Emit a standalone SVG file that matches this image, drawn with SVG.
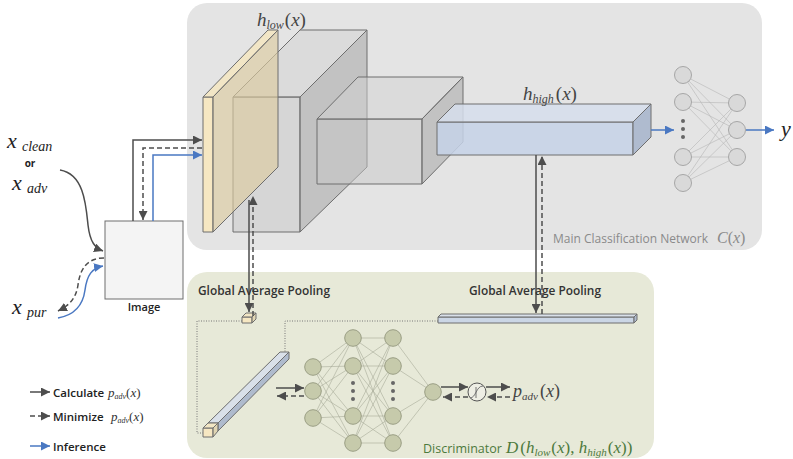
<svg xmlns="http://www.w3.org/2000/svg" width="793" height="459" viewBox="0 0 793 459">
<defs>
<style>
.sans{font-family:"Open Sans","Liberation Sans",sans-serif}
.math{font-family:"Liberation Serif","DejaVu Serif",serif;font-style:italic}
.up{font-style:normal}
.edge{stroke:#b5b5b5;stroke-width:0.6;fill:none}
.dedge{stroke:#a8ab98;stroke-width:0.6;fill:none}
.gnode{fill:#d9d9d9;stroke:#a6a6a6;stroke-width:1}
.dnode{fill:#c6caab;stroke:#9a9e84;stroke-width:1}
.gf{fill:#c8c8c8;fill-opacity:.5;stroke:#6e6e6e;stroke-width:1}
.gs{fill:#a0a0a0;fill-opacity:.5;stroke:#6e6e6e;stroke-width:1}
.gt{fill:#d2d2d2;fill-opacity:.5;stroke:#6e6e6e;stroke-width:1}
.yf{fill:#f6e7c2;stroke:#6e6e6e;stroke-width:1}
.yt{fill:#f3e5c2;fill-opacity:.9;stroke:#6e6e6e;stroke-width:1}
.ys{fill:#dccb9f;fill-opacity:.65;stroke:#6e6e6e;stroke-width:1}
.bf{fill:#c6d2e8;fill-opacity:.85;stroke:#6e6e6e;stroke-width:1}
.bt{fill:#d6deec;fill-opacity:.85;stroke:#6e6e6e;stroke-width:1}
.bs{fill:#a9b6cc;fill-opacity:.9;stroke:#6e6e6e;stroke-width:1}
.dk{stroke:#4d4d4d;stroke-width:1.5;fill:none}
.dash{stroke:#4d4d4d;stroke-width:1.5;fill:none;stroke-dasharray:5 3}
.bl{stroke:#4a78c2;stroke-width:1.5;fill:none}
.dot{stroke:#777;stroke-width:1;fill:none;stroke-dasharray:1 1.5}
</style>
<marker id="ad" viewBox="0 0 10 10" refX="10" refY="5" markerWidth="9" markerHeight="9" markerUnits="userSpaceOnUse" orient="auto"><path d="M0,0 L10,5 L0,10 z" fill="#4d4d4d"/></marker>
<marker id="ab" viewBox="0 0 10 10" refX="10" refY="5" markerWidth="9" markerHeight="9" markerUnits="userSpaceOnUse" orient="auto"><path d="M0,0 L10,5 L0,10 z" fill="#4a78c2"/></marker>
</defs>
<rect width="793" height="459" fill="#ffffff"/>

<g id="main-panel">
<rect x="187" y="3" width="575" height="247" rx="20" fill="#e4e4e4"/>
<text class="sans" x="553" y="243" font-size="12" fill="#8a8a8a">Main Classification Network</text>
<text class="math" x="717" y="243" font-size="16" fill="#8a8a8a">C<tspan class="up">(</tspan>x<tspan class="up">)</tspan></text>
</g>

<g id="disc-panel">
<rect x="187" y="272" width="467" height="186" rx="20" fill="#e7e9d8"/>
</g>

<g id="box-low">
<polygon class="gf" points="233,97 300,97 300,232 233,232"/>
<polygon class="gt" points="233,97 300,30 367,30 300,97"/>
<polygon class="gs" points="300,97 367,30 367,167 300,232"/>
</g>

<g id="slab-input">
<polygon class="yf" points="203,97 213,97 213,232 203,232"/>
<polygon class="yt" points="203,97 268,30 278,30 213,97"/>
<polygon class="ys" points="213,97 278,30 278,167 213,232"/>
</g>

<g id="label-hlow">
<text class="math" x="257" y="26" font-size="19" fill="#444">h<tspan font-size="12" dy="3">low</tspan><tspan class="up" dy="-3" dx="1">(</tspan>x<tspan class="up">)</tspan></text>
</g>

<g id="box-mid">
<polygon class="gf" points="317,119 422,119 422,184 317,184"/>
<polygon class="gt" points="317,119 358,77 463,77 422,119"/>
<polygon class="gs" points="422,119 463,77 463,142 422,184"/>
</g>

<g id="bar-high">
<polygon class="bf" points="437,122 633,122 633,155 437,155"/>
<polygon class="bt" points="437,122 455,104 651,104 633,122"/>
<polygon class="bs" points="633,122 651,104 651,137 633,155"/>
<text class="math" x="523" y="100" font-size="19" fill="#444">h<tspan font-size="12" dy="3">high</tspan><tspan class="up" dy="-3" dx="2">(</tspan>x<tspan class="up">)</tspan></text>
</g>

<g id="classifier-net">
<g>
<line class="edge" x1="683" y1="75" x2="737" y2="103"/><line class="edge" x1="683" y1="75" x2="737" y2="130"/><line class="edge" x1="683" y1="75" x2="737" y2="157"/>
<line class="edge" x1="683" y1="102" x2="737" y2="103"/><line class="edge" x1="683" y1="102" x2="737" y2="130"/><line class="edge" x1="683" y1="102" x2="737" y2="157"/>
<line class="edge" x1="683" y1="157" x2="737" y2="103"/><line class="edge" x1="683" y1="157" x2="737" y2="130"/><line class="edge" x1="683" y1="157" x2="737" y2="157"/>
<line class="edge" x1="683" y1="183" x2="737" y2="103"/><line class="edge" x1="683" y1="183" x2="737" y2="130"/><line class="edge" x1="683" y1="183" x2="737" y2="157"/>
</g>
<circle class="gnode" cx="683" cy="75" r="8.5"/><circle class="gnode" cx="683" cy="102" r="8.5"/>
<circle class="gnode" cx="683" cy="157" r="8.5"/><circle class="gnode" cx="683" cy="183" r="8.5"/>
<circle cx="683" cy="121" r="2" fill="#666"/><circle cx="683" cy="129" r="2" fill="#666"/><circle cx="683" cy="137" r="2" fill="#666"/>
<circle class="gnode" cx="737" cy="103" r="8.5"/><circle class="gnode" cx="737" cy="130" r="8.5"/><circle class="gnode" cx="737" cy="157" r="8.5"/>
<text class="math" x="781" y="136" font-size="22" fill="#222">y</text>
</g>

<g id="input-labels">
<text class="math" x="7" y="148" font-size="22" fill="#222">x</text>
<text class="math" x="22" y="151" font-size="14" fill="#222">clean</text>
<text class="sans" x="30" y="167" font-size="10" font-weight="bold" fill="#222" text-anchor="middle">or</text>
<text class="math" x="12" y="190" font-size="22" fill="#222">x</text>
<text class="math" x="27" y="193" font-size="14" fill="#222">adv</text>
<text class="math" x="12" y="314" font-size="22" fill="#222">x</text>
<text class="math" x="27" y="317" font-size="14" fill="#222">pur</text>
</g>

<g id="image">
<rect x="105" y="221" width="78" height="78" fill="#f4f4f4" stroke="#6e6e6e" stroke-width="1"/>
<text class="sans" x="144" y="311" font-size="11" font-weight="600" fill="#222" text-anchor="middle">Image</text>
</g>

<g id="gap-low">
<polygon class="yf" points="242,317 252,317 252,323 242,323"/>
<polygon class="yt" points="242,317 246,313 256,313 252,317"/>
<polygon class="ys" points="252,317 256,313 256,319 252,323"/>
</g>

<g id="gap-high">
<polygon class="bf" points="438,317 634,317 634,323 438,323"/>
<polygon class="bt" points="438,317 441,314 637,314 634,317"/>
<polygon class="bs" points="634,317 637,314 637,320 634,323"/>
</g>

<g id="concat-bar">
<polygon class="bt" points="208,423 280,352 289,352 218,423"/>
<polygon class="bs" points="218,423 289,352 289,359 218,431"/>
<polygon class="yf" points="203,428 213,428 213,437 203,437"/>
<polygon class="yt" points="203,428 208,423 218,423 213,428"/>
<polygon class="ys" points="213,428 218,423 218,431 213,437"/>
</g>

<g id="disc-net">
<g>
<line class="dedge" x1="313" y1="367" x2="353" y2="338"/><line class="dedge" x1="313" y1="367" x2="353" y2="366"/><line class="dedge" x1="313" y1="367" x2="353" y2="416"/><line class="dedge" x1="313" y1="367" x2="353" y2="443"/>
<line class="dedge" x1="313" y1="391" x2="353" y2="338"/><line class="dedge" x1="313" y1="391" x2="353" y2="366"/><line class="dedge" x1="313" y1="391" x2="353" y2="416"/><line class="dedge" x1="313" y1="391" x2="353" y2="443"/>
<line class="dedge" x1="313" y1="418" x2="353" y2="338"/><line class="dedge" x1="313" y1="418" x2="353" y2="366"/><line class="dedge" x1="313" y1="418" x2="353" y2="416"/><line class="dedge" x1="313" y1="418" x2="353" y2="443"/>
<line class="dedge" x1="353" y1="338" x2="393" y2="338"/><line class="dedge" x1="353" y1="338" x2="393" y2="366"/><line class="dedge" x1="353" y1="338" x2="393" y2="416"/><line class="dedge" x1="353" y1="338" x2="393" y2="443"/>
<line class="dedge" x1="353" y1="366" x2="393" y2="338"/><line class="dedge" x1="353" y1="366" x2="393" y2="366"/><line class="dedge" x1="353" y1="366" x2="393" y2="416"/><line class="dedge" x1="353" y1="366" x2="393" y2="443"/>
<line class="dedge" x1="353" y1="416" x2="393" y2="338"/><line class="dedge" x1="353" y1="416" x2="393" y2="366"/><line class="dedge" x1="353" y1="416" x2="393" y2="416"/><line class="dedge" x1="353" y1="416" x2="393" y2="443"/>
<line class="dedge" x1="353" y1="443" x2="393" y2="338"/><line class="dedge" x1="353" y1="443" x2="393" y2="366"/><line class="dedge" x1="353" y1="443" x2="393" y2="416"/><line class="dedge" x1="353" y1="443" x2="393" y2="443"/>
<line class="dedge" x1="393" y1="338" x2="433" y2="392"/><line class="dedge" x1="393" y1="366" x2="433" y2="392"/><line class="dedge" x1="393" y1="416" x2="433" y2="392"/><line class="dedge" x1="393" y1="443" x2="433" y2="392"/>
</g>
<circle class="dnode" cx="313" cy="367" r="8.3"/><circle class="dnode" cx="313" cy="391" r="8.3"/><circle class="dnode" cx="313" cy="418" r="8.3"/>
<circle class="dnode" cx="353" cy="338" r="8.3"/><circle class="dnode" cx="353" cy="366" r="8.3"/><circle class="dnode" cx="353" cy="416" r="8.3"/><circle class="dnode" cx="353" cy="443" r="8.3"/>
<circle cx="353" cy="383" r="2" fill="#666"/><circle cx="353" cy="391" r="2" fill="#666"/><circle cx="353" cy="399" r="2" fill="#666"/>
<circle class="dnode" cx="393" cy="338" r="8.3"/><circle class="dnode" cx="393" cy="366" r="8.3"/><circle class="dnode" cx="393" cy="416" r="8.3"/><circle class="dnode" cx="393" cy="443" r="8.3"/>
<circle cx="393" cy="383" r="2" fill="#666"/><circle cx="393" cy="391" r="2" fill="#666"/><circle cx="393" cy="399" r="2" fill="#666"/>
<circle class="dnode" cx="433" cy="392" r="8.3"/>
</g>

<g id="sigmoid">
<circle cx="477" cy="392" r="9" fill="#eeeee4" stroke="#555" stroke-width="1"/>
<path d="M470,398 C476,398 476,386 483,386 M476,387 L476,398" stroke="#666" stroke-width="0.9" fill="none"/>
</g>

<g id="connectors">
<path class="dk" d="M60,170 C84,174 86,205 88,225 C90,242 95,248 103,251" marker-end="url(#ad)"/>
<path class="dash" d="M104,258 C86,258 80,270 78,285 C76,298 70,305 58,311" marker-end="url(#ad)"/>
<path class="bl" d="M58,318 C75,315 83,305 85,290 C87,275 92,268 103,266" marker-end="url(#ab)"/>
<path class="dk" d="M133,221 V140 H202" marker-end="url(#ad)"/>
<path class="dash" d="M202,148 H143 V220" marker-end="url(#ad)"/>
<path class="bl" d="M153,221 V155 H202" marker-end="url(#ab)"/>
<path class="dk" d="M249,200 V312" marker-end="url(#ad)"/>
<path class="dash" d="M253,316 V196" marker-end="url(#ad)"/>
<path class="dk" d="M536,155 V313" marker-end="url(#ad)"/>
<path class="dash" d="M542,314 V156" marker-end="url(#ad)"/>
<path class="bl" d="M651,130 H674" marker-end="url(#ab)"/>
<path class="bl" d="M746,130 H774" marker-end="url(#ab)"/>
<path class="dot" d="M242,321 H197 V433 H203"/>
<path class="dot" d="M438,321 H285 V352"/>
<path class="dk" d="M276,388 H304" marker-end="url(#ad)"/>
<path class="dash" d="M304,396 H277" marker-end="url(#ad)"/>
<path class="dk" d="M441,387 H468" marker-end="url(#ad)"/>
<path class="dk" d="M486,387 H510" marker-end="url(#ad)"/>
<path class="dash" d="M510,397 H487" marker-end="url(#ad)"/>
<path class="dash" d="M468,397 H443" marker-end="url(#ad)"/>
</g>

<g id="disc-labels">
<text class="sans" x="198" y="295" font-size="12.5" font-weight="600" fill="#333" textLength="132" lengthAdjust="spacingAndGlyphs">Global Average Pooling</text>
<text class="sans" x="469" y="295" font-size="12.5" font-weight="600" fill="#333" textLength="132" lengthAdjust="spacingAndGlyphs">Global Average Pooling</text>
<text class="math" x="513" y="397" font-size="18" fill="#444">p<tspan font-size="11" dy="3">adv</tspan><tspan class="up" dy="-3" dx="2">(</tspan>x<tspan class="up">)</tspan></text>
<text class="sans" x="423" y="453" font-size="12.5" fill="#4d7a3d">Discriminator</text>
<text class="math" x="506" y="453" font-size="17" fill="#4d7a3d">D<tspan class="up" dx="2">(</tspan>h<tspan font-size="11" dy="3">low</tspan><tspan class="up" dy="-3" dx="1">(</tspan>x<tspan class="up">),</tspan> h<tspan font-size="11" dy="3">high</tspan><tspan class="up" dy="-3" dx="1">(</tspan>x<tspan class="up">))</tspan></text>
</g>

<g id="legend">
<path class="dk" d="M30,392 H50" marker-end="url(#ad)"/>
<path class="dash" d="M30,416 H50" marker-end="url(#ad)"/>
<path class="bl" d="M30,446 H50" marker-end="url(#ab)"/>
<text class="sans" x="53" y="397" font-size="11.5" font-weight="600" fill="#222">Calculate</text>
<text class="math" x="108" y="397" font-size="13" fill="#333">p<tspan font-size="8" dy="2">adv</tspan><tspan class="up" dy="-2">(</tspan>x<tspan class="up">)</tspan></text>
<text class="sans" x="53" y="421" font-size="11.5" font-weight="600" fill="#222">Minimize</text>
<text class="math" x="111" y="421" font-size="13" fill="#333">p<tspan font-size="8" dy="2">adv</tspan><tspan class="up" dy="-2">(</tspan>x<tspan class="up">)</tspan></text>
<text class="sans" x="53" y="451" font-size="11.5" font-weight="600" fill="#222">Inference</text>
</g>
</svg>
